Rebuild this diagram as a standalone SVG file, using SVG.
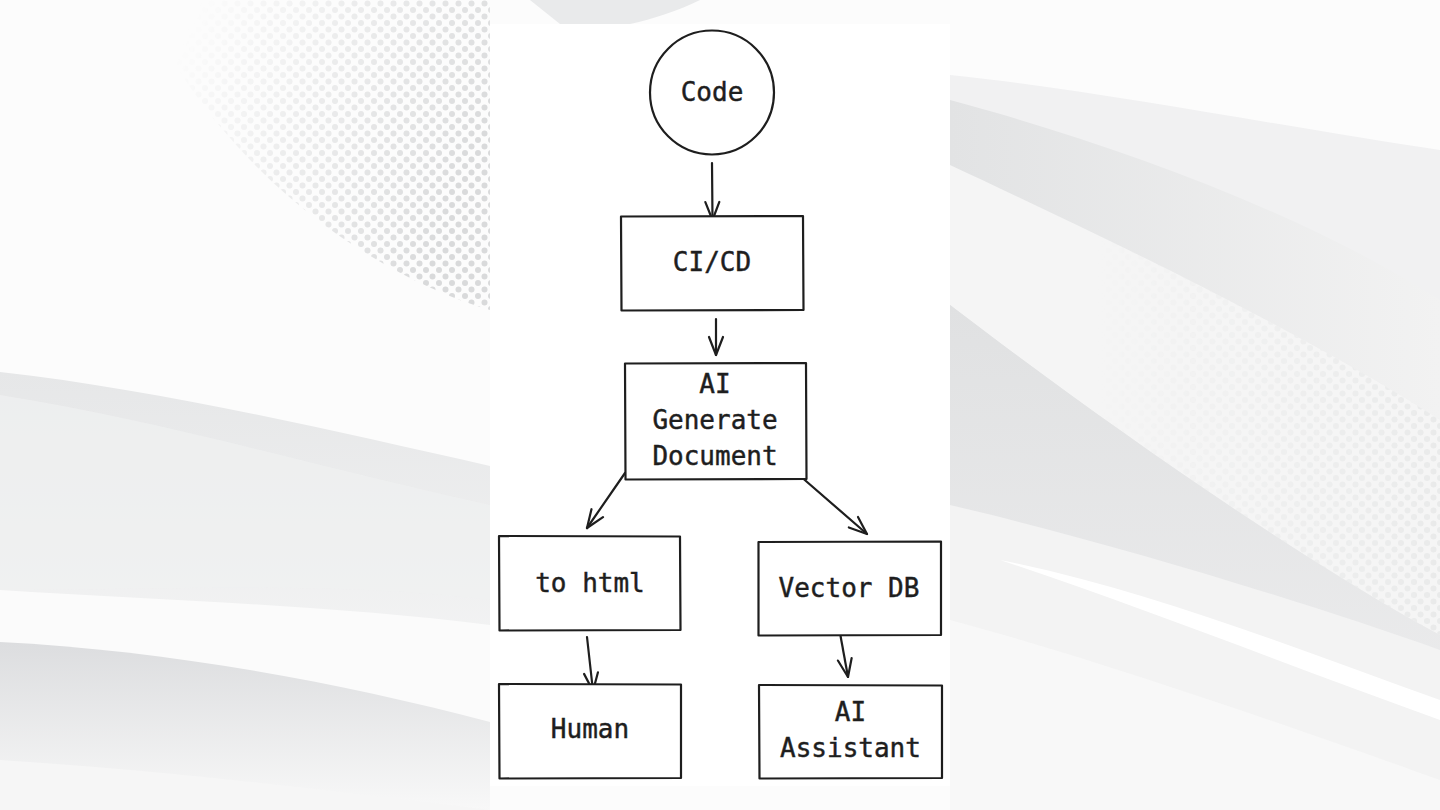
<svg xmlns="http://www.w3.org/2000/svg" width="1440" height="810" viewBox="0 0 1440 810">
  <defs>
    <style>
      .shape { fill: #ffffff; stroke: #1e1e1e; stroke-width: 2.2; stroke-linejoin: round; stroke-linecap: round; }
      .conn { fill: none; stroke: #1e1e1e; stroke-width: 2.2; stroke-linecap: round; }
      .label { font-family: "DejaVu Sans Mono", "Liberation Mono", monospace; font-size: 26px; fill: #1e1e1e; stroke: #1e1e1e; stroke-width: 0.45; text-anchor: middle; }
    </style>
    <marker id="arrow" viewBox="-20 -10 22 20" refX="0" refY="0" markerWidth="22" markerHeight="20" markerUnits="userSpaceOnUse" orient="auto">
      <path d="M-18,-7 L0,0 L-18,7" fill="none" stroke="#1e1e1e" stroke-width="2.2" stroke-linecap="round" stroke-linejoin="round"/>
    </marker>
    <pattern id="dots" x="0" y="0" width="13" height="13" patternUnits="userSpaceOnUse">
      <circle cx="3.5" cy="3.5" r="3" fill="#d9dadb"/>
      <circle cx="10" cy="10" r="3" fill="#d9dadb"/>
    </pattern>
    <pattern id="dots2" x="0" y="0" width="13" height="13" patternUnits="userSpaceOnUse">
      <circle cx="3.5" cy="3.5" r="3" fill="#e9eaea"/>
      <circle cx="10" cy="10" r="3" fill="#e9eaea"/>
    </pattern>
    <linearGradient id="dotFade" x1="0" y1="0" x2="1" y2="0.4">
      <stop offset="0.15" stop-color="#fff" stop-opacity="0"/>
      <stop offset="1" stop-color="#fff" stop-opacity="1"/>
    </linearGradient>
    <mask id="dotMask">
      <path d="M140,0 L490,0 L490,310 C420,290 330,240 260,170 C200,110 170,60 140,0 Z" fill="url(#dotFade)"/>
    </mask>
    <linearGradient id="dotFade2" x1="0" y1="0" x2="1" y2="0">
      <stop offset="0.3" stop-color="#fff" stop-opacity="0"/>
      <stop offset="1" stop-color="#fff" stop-opacity="1"/>
    </linearGradient>
    <mask id="dotMask2">
      <path d="M950,165 C1100,235 1300,330 1440,420 L1440,635 C1300,560 1100,420 950,305 Z" fill="url(#dotFade2)"/>
    </mask>
    <linearGradient id="grayDown" x1="0" y1="0" x2="0" y2="1">
      <stop offset="0" stop-color="#dcdddf"/>
      <stop offset="1" stop-color="#f8f8f8"/>
    </linearGradient>
    <linearGradient id="grayDown2" x1="0" y1="0" x2="0" y2="1">
      <stop offset="0" stop-color="#e6e7e8"/>
      <stop offset="1" stop-color="#fafafa"/>
    </linearGradient>
    <linearGradient id="grayRight" x1="0" y1="0" x2="1" y2="0">
      <stop offset="0" stop-color="#e2e3e4"/>
      <stop offset="1" stop-color="#f2f2f2"/>
    </linearGradient>
    <linearGradient id="grayRight2" x1="0" y1="0" x2="0" y2="1">
      <stop offset="0" stop-color="#e0e1e2"/>
      <stop offset="1" stop-color="#eeeeef"/>
    </linearGradient>
  </defs>

  <!-- background scene -->
  <g id="background">
    <rect x="0" y="0" width="1440" height="810" fill="#fcfcfc"/>
    <rect x="0" y="0" width="490" height="320" fill="url(#dots)" mask="url(#dotMask)"/>
    <!-- left bands -->
    <path d="M0,372 C160,390 330,430 490,466 L490,810 L0,810 Z" fill="url(#grayDown2)"/>
    <path d="M0,395 C160,420 330,470 490,505 L490,600 C330,580 160,590 0,590 Z" fill="#f0f1f1" opacity="0.7"/>
    <path d="M0,590 C160,600 330,605 490,625 L490,810 L0,810 Z" fill="#fbfbfb"/>
    <path d="M0,642 C160,650 330,680 490,722 L490,810 L0,810 Z" fill="url(#grayDown)"/>
    <path d="M0,760 C160,770 330,790 490,810 L0,810 Z" fill="#f6f6f6"/>
    <!-- top strip -->
    <path d="M530,0 L700,0 C680,10 650,20 630,24 L560,24 Z" fill="#e9eaeb"/>
    <!-- right bands -->
    <path d="M950,75 C1100,90 1300,130 1440,150 L1440,810 L950,810 Z" fill="#f1f1f2"/>
    <path d="M950,100 C1100,140 1300,210 1440,300 L1440,810 L950,810 Z" fill="url(#grayRight)"/>
    <path d="M950,165 C1100,235 1300,330 1440,420 L1440,635 C1300,560 1100,420 950,305 Z" fill="#f5f5f5"/>
    <rect x="950" y="160" width="490" height="480" fill="url(#dots2)" mask="url(#dotMask2)"/>
    <path d="M950,305 C1100,420 1300,560 1440,635 L1440,810 L950,810 Z" fill="url(#grayRight2)"/>
    <path d="M950,505 C1100,540 1300,600 1440,650 L1440,810 L950,810 Z" fill="#f3f3f3"/>
    <path d="M1000,560 C1150,590 1300,650 1440,700 L1440,720 C1300,670 1150,610 1000,560 Z" fill="#ffffff"/>
    <path d="M950,620 C1100,660 1300,730 1440,780 L1440,810 L950,810 Z" fill="#f8f8f8"/>
    <!-- panel -->
    <rect x="490" y="24" width="460" height="762" fill="#ffffff"/>
  </g>

  <!-- connectors -->
  <g id="connectors">
    <path class="conn" d="M712,163 L712.5,220" marker-end="url(#arrow)"/>
    <path class="conn" d="M716,319 L716,355" marker-end="url(#arrow)"/>
    <path class="conn" d="M625,473 L587,528" marker-end="url(#arrow)"/>
    <path class="conn" d="M799,475 L867,534" marker-end="url(#arrow)"/>
    <path class="conn" d="M587,637 L593,691" marker-end="url(#arrow)"/>
    <path class="conn" d="M840,633 L848,677" marker-end="url(#arrow)"/>
  </g>

  <!-- nodes -->
  <g id="node-code">
    <circle class="shape" cx="712" cy="92.5" r="62"/>
    <text class="label" x="712" y="101">Code</text>
  </g>
  <g id="node-cicd">
    <path class="shape" d="M621,216.5 L803,216 L803.5,310 L621.5,310.5 Z"/>
    <text class="label" x="712" y="271">CI/CD</text>
  </g>
  <g id="node-ai-generate">
    <path class="shape" d="M625,363.5 L806,363 L806.5,479 L625.5,479.5 Z"/>
    <text class="label" x="715" y="393">AI</text>
    <text class="label" x="715" y="429">Generate</text>
    <text class="label" x="715" y="465">Document</text>
  </g>
  <g id="node-to-html">
    <path class="shape" d="M499,536 L680,536.5 L680.5,630 L499.5,630.5 Z"/>
    <text class="label" x="590" y="592">to html</text>
  </g>
  <g id="node-vector-db">
    <path class="shape" d="M758.5,542 L941,541.5 L941,635 L758.5,635.5 Z"/>
    <text class="label" x="849" y="597">Vector DB</text>
  </g>
  <g id="node-human">
    <path class="shape" d="M499,684 L681,684.5 L681,778 L499.5,778.5 Z"/>
    <text class="label" x="590" y="738">Human</text>
  </g>
  <g id="node-ai-assistant">
    <path class="shape" d="M759,685 L942,685.5 L942,778 L759.5,778.5 Z"/>
    <text class="label" x="850.5" y="721">AI</text>
    <text class="label" x="850.5" y="757">Assistant</text>
  </g>
</svg>
